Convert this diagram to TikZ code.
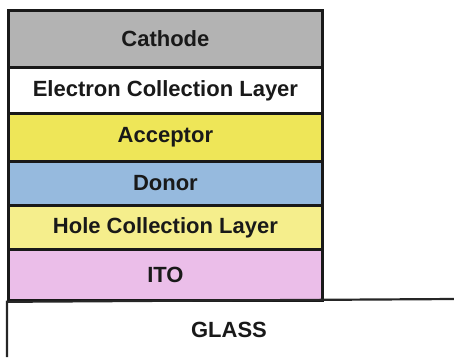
\documentclass[tikz,border=0pt]{standalone}
\usepackage{fontspec}
\setmainfont{Liberation Sans}
\definecolor{cathodec}{RGB}{179,179,179}
\definecolor{acceptorc}{RGB}{238,230,88}
\definecolor{donorc}{RGB}{150,186,222}
\definecolor{holec}{RGB}{245,238,140}
\definecolor{itoc}{RGB}{235,190,233}
\definecolor{txt}{RGB}{25,25,25}
\begin{document}
\begin{tikzpicture}[x=1pt,y=-1pt,
  layer/.style={draw=black!90,line width=2.8pt,minimum width=314pt,inner sep=0pt,
    font=\fontsize{22}{26}\selectfont\bfseries,text=txt,anchor=north west}]
\useasboundingbox (0,0) rectangle (454,357);
\node[layer,fill=cathodec,minimum height=57pt] (cathode) at (7,9) {Cathode};
\node[layer,fill=white,minimum height=46pt] (ecl) at (7,66) {Electron Collection Layer};
\node[layer,fill=acceptorc,minimum height=48pt] (acc) at (7,112) {Acceptor};
\node[layer,fill=donorc,minimum height=44pt] (don) at (7,160) {Donor};
\node[layer,fill=holec,minimum height=44pt] (hcl) at (7,204) {Hole Collection Layer};
\node[layer,fill=itoc,minimum height=51pt] (ito) at (7,248) {ITO};
\node[font=\fontsize{22}{26}\selectfont\bfseries,text=txt] (glass) at (229,330) {GLASS};
\draw[line width=2.2pt,black!85] (7,357) -- (ito.south west) -- (454,299);
\end{tikzpicture}
\end{document}
